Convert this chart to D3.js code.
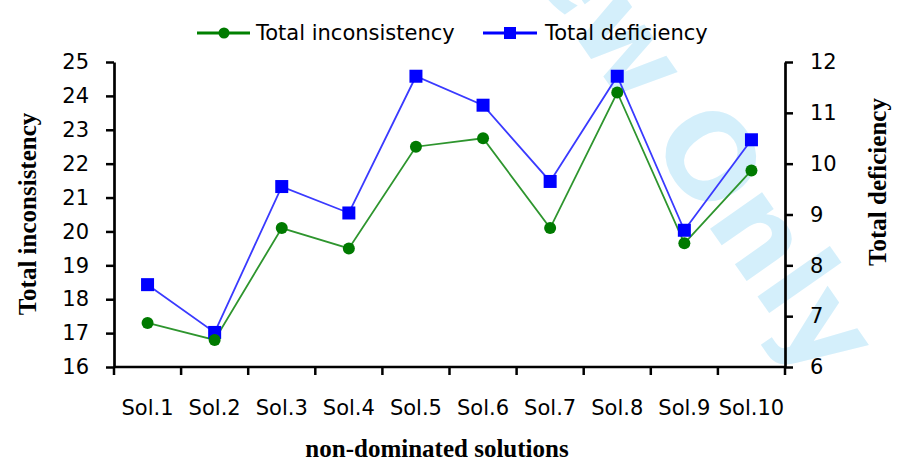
<!DOCTYPE html>
<html>
<head>
<meta charset="utf-8">
<script src="https://cdn.jsdelivr.net/npm/d3@7"></script>
<style>
  body { margin: 0; background: #fff; }
  svg { display: block; }
  .tick text { font-family: "DejaVu Sans", sans-serif; font-size: 21px; fill: #000; }
  .axis path, .axis line { stroke: #000; }
</style>
</head>
<body>
<svg width="899" height="466"></svg>
<script>
var categories = ["Sol.1", "Sol.2", "Sol.3", "Sol.4", "Sol.5", "Sol.6", "Sol.7", "Sol.8", "Sol.9", "Sol.10"];
var inconsistency = [17.3, 16.8, 20.1, 19.5, 22.5, 22.75, 20.1, 24.1, 19.65, 21.8];
var deficiency = [7.62, 6.68, 9.55, 9.03, 11.72, 11.15, 9.65, 11.72, 8.69, 10.47];
var leftTicks = [16, 17, 18, 19, 20, 21, 22, 23, 24, 25];
var rightTicks = [6, 7, 8, 9, 10, 11, 12];

var svg = d3.select("svg");
var margin = {top: 62, right: 114, bottom: 99, left: 114};
var width = +svg.attr("width") - margin.left - margin.right;
var height = +svg.attr("height") - margin.top - margin.bottom;

// watermark behind everything ("Review Only", only the tail shows)
var wm = svg.append("g").attr("transform", "translate(648,140) rotate(55)")
    .style("font-family", "DejaVu Sans, sans-serif")
    .style("font-weight", "bold")
    .style("font-size", "116px")
    .style("fill", "#d4effb");
wm.append("text").text("Only");
wm.append("text").attr("text-anchor", "end").attr("dx", "-0.3em").text("Review");

var g = svg.append("g").attr("transform", "translate(" + margin.left + "," + margin.top + ")");

var x = d3.scaleBand().domain(categories).range([0, width]);
var yL = d3.scaleLinear().domain([16, 25]).range([height, 0]);
var yR = d3.scaleLinear().domain([6, 12]).range([height, 0]);

// x axis: labels at band centres, ticks at band edges
var xAxis = g.append("g")
    .attr("class", "axis")
    .attr("transform", "translate(0," + height + ")")
    .call(d3.axisBottom(x).tickSize(0).tickPadding(41));
xAxis.select(".domain").remove();
xAxis.selectAll(".tick text").attr("dy", "0.35em");
xAxis.selectAll(".edge")
    .data(d3.range(categories.length + 1))
    .enter().append("line")
    .attr("x1", function(i) { return i * x.step(); })
    .attr("x2", function(i) { return i * x.step(); })
    .attr("y1", 0).attr("y2", 8)
    .attr("stroke", "#000").attr("stroke-width", 2.5);
xAxis.append("line")
    .attr("x1", 0).attr("x2", width)
    .attr("stroke", "#000").attr("stroke-width", 2.7);

var leftAxis = g.append("g")
    .attr("class", "axis")
    .call(d3.axisLeft(yL).tickValues(leftTicks).tickFormat(d3.format("d"))
        .tickSize(8).tickPadding(17).tickSizeOuter(0));
var rightAxis = g.append("g")
    .attr("class", "axis")
    .attr("transform", "translate(" + width + ",0)")
    .call(d3.axisRight(yR).tickValues(rightTicks).tickFormat(d3.format("d"))
        .tickSize(8).tickPadding(17).tickSizeOuter(0));
[leftAxis, rightAxis].forEach(function(a) {
    a.select(".domain").attr("stroke-width", 2.7);
    a.selectAll(".tick line").attr("stroke-width", 2.5);
});

var cx = function(d, i) { return x(categories[i]) + x.bandwidth() / 2; };

var lineL = d3.line().x(cx).y(function(d) { return yL(d); });
var lineR = d3.line().x(cx).y(function(d) { return yR(d); });

g.append("path").datum(deficiency)
    .attr("d", lineR).attr("fill", "none")
    .attr("stroke", "#3a3aff").attr("stroke-width", 1.8);
g.append("path").datum(inconsistency)
    .attr("d", lineL).attr("fill", "none")
    .attr("stroke", "#2e952e").attr("stroke-width", 1.8);

g.selectAll(".sq").data(deficiency).enter().append("rect")
    .attr("x", function(d, i) { return cx(d, i) - 6.5; })
    .attr("y", function(d) { return yR(d) - 6.5; })
    .attr("width", 13).attr("height", 13)
    .attr("fill", "#0000ff");
g.selectAll(".dot").data(inconsistency).enter().append("circle")
    .attr("cx", cx)
    .attr("cy", function(d) { return yL(d); })
    .attr("r", 6)
    .attr("fill", "#007a00");

// legend
var legend = svg.append("g").attr("transform", "translate(0,33)");
legend.append("line").attr("x1", 197).attr("x2", 250)
    .attr("stroke", "#008000").attr("stroke-width", 3);
legend.append("circle").attr("cx", 224).attr("r", 5.5).attr("fill", "#007a00");
legend.append("text").attr("x", 256).attr("dy", "0.35em")
    .style("font-family", "DejaVu Sans, sans-serif").style("font-size", "21px")
    .text("Total inconsistency");
legend.append("line").attr("x1", 483).attr("x2", 537)
    .attr("stroke", "#0000ff").attr("stroke-width", 3);
legend.append("rect").attr("x", 504).attr("y", -6).attr("width", 12).attr("height", 12).attr("fill", "#0000ff");
legend.append("text").attr("x", 545).attr("dy", "0.35em")
    .style("font-family", "DejaVu Sans, sans-serif").style("font-size", "21px")
    .text("Total deficiency");

// axis titles
var titleStyle = function(t) {
    t.style("font-family", "Liberation Serif, Times New Roman, serif")
     .style("font-size", "25px").style("font-weight", "bold")
     .attr("text-anchor", "middle");
};
svg.append("text").call(titleStyle)
    .attr("transform", "translate(27,214) rotate(-90)")
    .attr("dy", "0.35em")
    .text("Total inconsistency");
svg.append("text").call(titleStyle)
    .attr("transform", "translate(877,182) rotate(-90)")
    .attr("dy", "0.35em")
    .text("Total deficiency");
svg.append("text").call(titleStyle)
    .attr("x", 437).attr("y", 457)
    .text("non-dominated solutions");
</script>
</body>
</html>
